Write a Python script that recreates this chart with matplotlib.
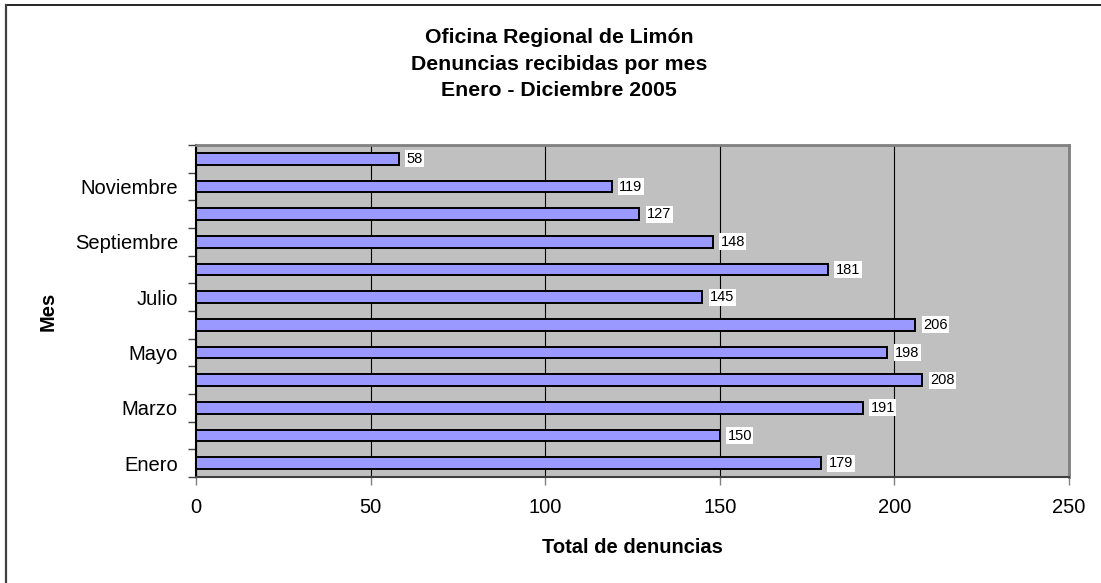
import matplotlib
matplotlib.use("Agg")
import matplotlib.pyplot as plt
from matplotlib.lines import Line2D
import numpy as np

plt.rcParams['font.family'] = ['Liberation Sans', 'DejaVu Sans']

months = ["Enero", "Febrero", "Marzo", "Abril", "Mayo", "Junio", "Julio",
          "Agosto", "Septiembre", "Octubre", "Noviembre", "Diciembre"]
values = [179, 150, 191, 208, 198, 206, 145, 181, 148, 127, 119, 58]
x_ticks = [0, 50, 100, 150, 200, 250]
title_lines = ["Oficina Regional de Limón", "Denuncias recibidas por mes", "Enero - Diciembre 2005"]

W, H = 1101, 583
fig = plt.figure(figsize=(W / 100, H / 100), dpi=100)
fig.patch.set_facecolor("white")

left, right, top, bottom = 196, 1069, 145, 477
ax = fig.add_axes([left / W, 1 - bottom / H, (right - left) / W, (bottom - top) / H])
ax.set_facecolor("#C0C0C0")

y = np.arange(len(months))
ax.barh(y, values, height=0.41, color="#9999FF", edgecolor="black", linewidth=1.4, zorder=3)

ax.set_xlim(0, 250)
ax.set_ylim(-0.5, len(months) - 0.5)
ax.set_xticks(x_ticks)
ax.set_xticklabels([str(t) for t in x_ticks], fontsize=14.5)
ax.tick_params(axis="x", direction="out", length=6, width=1, color="#808080", pad=9)

# y labels every other month, tick marks at category boundaries
ax.set_yticks(y[::2])
ax.set_yticklabels(months[::2], fontsize=14.5)
ax.tick_params(axis="y", which="major", length=0, pad=13)
ax.set_yticks(np.arange(-0.5, len(months), 1.0), minor=True)
ax.tick_params(axis="y", which="minor", direction="out", length=6, width=1, color="#404040")

ax.grid(axis="x", color="black", linewidth=0.8, zorder=1)
ax.set_axisbelow(True)

for s in ["top", "right"]:
    ax.spines[s].set_color("#808080")
    ax.spines[s].set_linewidth(2)
ax.spines["left"].set_color("black")
ax.spines["left"].set_linewidth(1.5)
ax.spines["bottom"].set_color("#404040")
ax.spines["bottom"].set_linewidth(1.5)

for yi, v in zip(y, values):
    ax.annotate(str(v), xy=(v, yi), xytext=(5.5, 0), textcoords="offset points",
                va="center", ha="left", fontsize=10.5, zorder=5,
                bbox=dict(boxstyle="square,pad=0.1", facecolor="white", edgecolor="none"))

ax.set_xlabel("Total de denuncias", fontsize=14.5, fontweight="bold", labelpad=15)
ax.set_ylabel("Mes", fontsize=14.5, fontweight="bold", labelpad=12)

for i, line in enumerate(title_lines):
    fig.text(559 / W, 1 - (37.5 + 26.5 * i) / H, line, ha="center", va="center",
             fontsize=15.3, fontweight="bold")

# outer chart frame (top and left visible)
fig.add_artist(Line2D([6 / W, 1.0], [1 - 5 / H, 1 - 5 / H], transform=fig.transFigure,
                      color="black", linewidth=1.2))
fig.add_artist(Line2D([6.5 / W, 6.5 / W], [0, 1 - 5 / H], transform=fig.transFigure,
                      color="#404040", linewidth=1.6))

fig.savefig("out.png", dpi=100)
